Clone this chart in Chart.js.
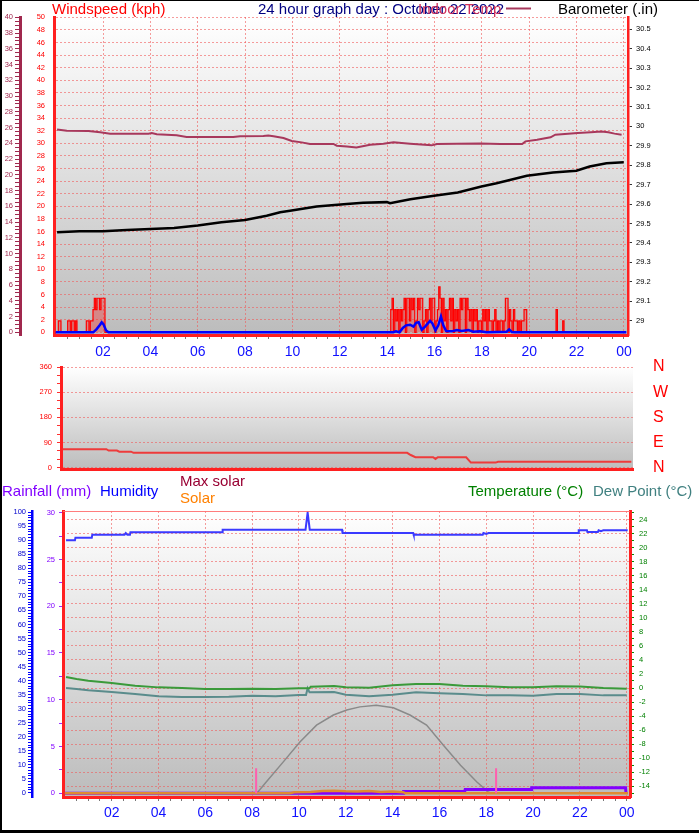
<!DOCTYPE html>
<html>
<head>
<meta charset="utf-8">
<script src="https://cdn.jsdelivr.net/npm/chart.js@4.4.1/dist/chart.umd.min.js"></script>
<style>
  body { margin: 0; background: #fff; }
  #page { position: relative; width: 699px; height: 833px; overflow: hidden; background: #fff; }
  #page canvas { position: absolute; left: 0; top: 0; }
  #frame { position: absolute; left: 0; top: 0; width: 699px; height: 833px; box-sizing: border-box;
           border-left: 2px solid #000; border-top: 1px solid #000; border-bottom: 3px solid #000; pointer-events: none; }
</style>
</head>
<body>
<div id="page">
  <canvas id="wind-chart" width="699" height="833"></canvas>
  <canvas id="dir-chart" width="699" height="833"></canvas>
  <canvas id="temp-chart" width="699" height="833"></canvas>
  <div id="frame"></div>
</div>
<script>
Chart.defaults.font.family = '"Liberation Sans", Arial, sans-serif';
Chart.defaults.animation = false;

// all times are hours after midnight, 22 October 2022
const hourTicks = [2, 4, 6, 8, 10, 12, 14, 16, 18, 20, 22, 24];
const hourLabels = ['02', '04', '06', '08', '10', '12', '14', '16', '18', '20', '22', '00'];
const compassLabels = ['N', 'E', 'S', 'W', 'N'];

// indoor temperature (C)
const indoorTimes = [0.06, 0.47, 1.38, 1.88, 2.3, 3.92, 4.06, 4.27, 5.11, 5.53, 7.5, 7.79, 8.77, 8.98, 9.2,
  9.62, 9.97, 10.39, 10.74, 11.73, 11.87, 12.3, 12.7, 13.28, 13.84, 14.27, 14.97, 15.88, 16.1, 16.94,
  17.93, 18.78, 19.7, 19.84, 20.33, 20.9, 21.1, 22.05, 22.6, 23.05, 23.34, 23.6, 23.9];
const indoorTemp = [25.74, 25.6, 25.57, 25.4, 25.23, 25.23, 25.3, 25.15, 25.01, 24.81, 24.81, 24.9, 24.94, 25.0, 24.9,
  24.68, 24.3, 24.12, 23.92, 23.92, 23.7, 23.61, 23.48, 23.82, 23.95, 24.12, 23.95, 23.74, 23.9, 23.95,
  23.99, 23.92, 23.91, 24.25, 24.46, 24.76, 25.1, 25.3, 25.4, 25.5, 25.4, 25.23, 25.1];

// barometer (in)
const baroTimes = [0.06, 1, 2, 3, 4, 5, 6, 7, 8, 8.91, 9.48, 9.9, 11.02, 12.29, 12.98, 13.99, 14.12, 14.98,
  15.98, 16.98, 17.98, 18.62, 19.05, 19.9, 21.0, 21.99, 22.55, 23.26, 23.99];
const baroValues = [29.455, 29.46, 29.46, 29.467, 29.472, 29.477, 29.49, 29.506, 29.518, 29.54, 29.558, 29.566, 29.587,
  29.6, 29.607, 29.61, 29.604, 29.625, 29.643, 29.66, 29.69, 29.707, 29.72, 29.746, 29.762, 29.772, 29.793, 29.81, 29.815];

// wind gusts (kph), one reading every ~3.4 minutes during the windy spells
const gustStep = 0.0563;
const gustNightStart = 0;
const gustNight = [0, 0, 1.8, 1.8, 0, 0, 0, 0, 0, 1.8, 1.8, 0, 1.8, 1.8, 0, 1.8, 0, 0, 0, 0,
  0, 0, 0, 1.8, 1.8, 0, 1.8, 1.8, 3.6, 5.4, 3.6, 5.4, 5.4, 3.6, 5.4, 5.4, 5.4, 0];
const gustAfternoonStart = 14.094;
const gustAfternoon = [
  0, 3.6, 5.4, 0, 3.6, 1.8, 3.6, 0, 3.6, 1.8,
  3.6, 5.4, 0, 5.4, 5.4, 1.8, 5.4, 3.6, 5.4, 0,
  1.8, 5.4, 3.6, 5.4, 5.4, 0, 1.8, 3.6, 0, 3.6,
  5.4, 1.8, 5.4, 5.4, 0, 1.8, 3.6, 7.2, 5.4, 0,
  5.4, 1.8, 3.6, 0, 3.6, 5.4, 1.8, 5.4, 0, 3.6,
  1.8, 3.6, 0, 5.4, 3.6, 5.4, 5.4, 0, 5.4, 3.6,
  1.8, 3.6, 0, 3.6, 1.8, 3.6, 0, 1.8, 1.8, 0,
  3.6, 1.8, 3.6, 0, 3.6, 1.8, 1.8, 0, 1.8, 3.6,
  0, 1.8, 0, 1.8, 1.8, 0, 1.8, 5.4, 5.4, 0,
  3.6, 1.8, 0, 3.6, 1.8, 1.8, 0, 1.8, 0, 1.8,
  1.8, 3.6, 3.6, 0];
const gustEveningStart = 21.075;
const gustEvening = [0, 3.6, 0, 0, 0, 0, 1.8, 0];

// average wind speed (kph)
const avgTimes = [0, 1.59, 1.73, 1.875, 1.945, 2.016, 2.13, 2.23, 14.26, 14.37, 14.52, 14.66, 14.8, 14.97, 15.11,
  15.22, 15.33, 15.46, 15.6, 15.81, 15.91, 16.04, 16.16, 16.27, 16.37, 16.49, 16.73, 16.94, 17.15, 17.43,
  17.64, 17.92, 18.2, 19.05, 19.15, 19.26, 19.4, 24.1];
const avgWind = [0, 0, 0.5, 1.2, 1.6, 1.3, 0.3, 0, 0, 0.15, 0, 0.7, 1.1, 1.2, 0.9,
  1.5, 1.6, 0.4, 0.9, 1.8, 1.4, 0.3, 1.1, 2.5, 1.1, 0.2, 0.15, 0.35, 0.2, 0.35,
  0.1, 0.15, 0, 0.1, 0.45, 0.05, 0, 0];

// wind direction (degrees)
const dirTimes = [0, 1.85, 1.95, 2.3, 2.4, 2.9, 3.0, 14.6, 14.75, 14.95, 15.7, 15.8, 15.9, 17.1, 17.3, 18.35, 18.45, 24.1];
const dirValues = [66, 66, 61, 61, 57, 57, 53, 53, 45, 37, 37, 31, 37, 37, 18, 18, 21, 21];

// humidity (%)
const humTimes = [0.05, 0.43, 0.45, 1.15, 1.17, 2.55, 2.6, 2.67, 2.78, 2.8, 6.72, 6.74, 10.28, 10.37, 10.46,
  11.84, 11.86, 14.88, 14.9, 17.85, 17.88, 18.0, 18.1, 21.93, 21.95, 22.3, 22.32, 22.77, 22.8, 22.9, 23.0, 24.04];
const humValues = [90.0, 90.0, 90.9, 90.9, 92.0, 92.0, 92.6, 92.0, 92.0, 92.9, 92.9, 93.8, 93.8, 99.9, 93.8,
  93.8, 92.6, 92.6, 92.0, 92.0, 92.6, 92.3, 92.6, 92.6, 93.6, 93.6, 93.0, 93.0, 93.6, 93.3, 93.6, 93.6];

// temperature and dew point (C)
const tempTimes = [0.05, 0.5, 1, 2, 3, 4, 5, 6, 7, 8, 9, 10, 10.45, 10.5, 11.5, 12, 13, 14, 15, 16,
  17, 18, 19, 20, 21, 22, 23, 24];
const tempValues = [1.57, 1.29, 1.04, 0.71, 0.33, 0.09, 0, -0.14, -0.14, -0.1, -0.14, -0.05, -0.05, 0.19, 0.29, 0.1,
  0.05, 0.38, 0.57, 0.57, 0.33, 0.24, 0.1, 0.1, 0.24, 0.2, 0, -0.1];
const dewTimes = [0.05, 0.5, 1, 2, 3, 4, 5, 6, 7, 8, 9, 10, 10.3, 10.37, 10.45, 11.5, 12, 13, 14, 15,
  16, 17, 18, 19, 20, 21, 22, 23, 24];
const dewValues = [0, -0.14, -0.33, -0.57, -0.86, -1.19, -1.29, -1.29, -1.24, -1.1, -1.19, -1.0, -1.0, -0.05, -0.62,
  -0.57, -0.95, -1.19, -0.95, -0.62, -0.76, -0.86, -1.05, -1.05, -1.1, -0.86, -0.86, -1.05, -1.05];

// solar radiation (W/m2)
const maxSolarTimes = [0, 8.2, 8.6, 9.33, 10.04, 10.75, 11.47, 12.04, 12.6, 13.3, 14.03, 14.74, 15.45, 16.17,
  16.9, 17.6, 18.08, 18.2, 24.05];
const maxSolarValues = [0, 0, 40, 112, 183, 243, 279, 297, 308, 314, 305, 279, 243, 171, 100, 40, 5, 0, 0];
const solarTimes = [0, 9.6, 9.8, 10.5, 11, 11.5, 12, 12.5, 13, 13.5, 14, 14.45, 14.55, 24.05];
const solarValues = [0, 0, 4, 5, 8, 9, 7, 6, 8, 5, 6, 4, 0, 0];

// rainfall today (mm)
const rainTimes = [0, 14.45, 14.47, 17.08, 17.1, 19.92, 19.94, 23.95, 23.97];
const rainValues = [0, 0, 0.2, 0.2, 0.4, 0.4, 0.6, 0.6, 0];

// sunrise / sunset
const sunTimes = [8.17, 18.42];
const sunMarkerHeight = 89;

const GRID = 'rgba(240, 90, 90, 0.6)';
const DOTS = [2, 2];
const RED = '#ff2020';
const MAROON = '#a0284e';

function pts(times, values) {
    return times.map((t, i) => ({ x: t, y: values[i] }));
}

function burst(start, values) {
    return values.map((v, i) => ({ x: start + i * gustStep, y: v }));
}

function tickList(from, to, step) {
    return function (scale) {
        const list = [];
        const n = Math.round((to - from) / step);
        for (let i = 0; i <= n; i++) {
            list.push({ value: Math.round((from + i * step) * 1000) / 1000 });
        }
        scale.ticks = list;
    };
}

function fixWidth(w) {
    return s => { s.width = w; s.paddingTop = 0; s.paddingBottom = 0; };
}

function fixHeight(h) {
    return s => { s.height = h; s.paddingLeft = 0; s.paddingRight = 0; };
}

function hourLabel(v) {
    const i = hourTicks.indexOf(v);
    return i < 0 ? '' : hourLabels[i];
}

function every(n) {
    return c => (c.tick && c.tick.value % n === 0) ? GRID : 'transparent';
}

const plotBackground = {
    id: 'plotBackground',
    beforeDraw(chart) {
        const { ctx, chartArea: a } = chart;
        const g = ctx.createLinearGradient(0, a.top, 0, a.bottom);
        g.addColorStop(0, '#ffffff');
        g.addColorStop(1, '#bcbcbc');
        ctx.save();
        ctx.fillStyle = g;
        ctx.fillRect(a.left, a.top, a.right - a.left, a.bottom - a.top);
        ctx.restore();
    }
};

function captions(list, extra) {
    return {
        id: 'captions',
        afterDraw(chart) {
            const ctx = chart.ctx;
            ctx.save();
            ctx.font = '15px "Liberation Sans", Arial, sans-serif';
            ctx.textBaseline = 'alphabetic';
            list.forEach(([text, x, y, color]) => {
                ctx.fillStyle = color;
                ctx.fillText(text, x, y);
            });
            if (extra) extra(ctx, chart);
            ctx.restore();
        }
    };
}

function hourAxis(min, max, height, pad) {
    return {
        type: 'linear', min: min, max: max,
        afterBuildTicks: tickList(0.5, 24, 0.5),
        afterFit: fixHeight(height),
        grid: { color: every(2), tickColor: '#777', tickLength: 4 },
        border: { color: RED, width: 3, dash: DOTS },
        ticks: { autoSkip: false, maxRotation: 0, minRotation: 0, padding: pad, color: '#1010ff',
                 font: { size: 14 }, callback: hourLabel }
    };
}

const common = {
    responsive: false,
    events: [],
    plugins: { legend: { display: false }, tooltip: { enabled: false } },
    elements: { point: { radius: 0 }, line: { tension: 0 } }
};

// ---- top: wind, indoor temperature, barometer ----
new Chart(document.getElementById('wind-chart'), {
    type: 'line',
    data: {
        datasets: [
            { data: pts(avgTimes, avgWind), yAxisID: 'wind', borderColor: '#0000ff', borderWidth: 2.5, order: 0 },
            { data: [...burst(gustNightStart, gustNight), ...burst(gustAfternoonStart, gustAfternoon),
                     ...burst(gustEveningStart, gustEvening)],
              yAxisID: 'wind', borderColor: '#ff0000', borderWidth: 1.2, stepped: true,
              fill: 'origin', backgroundColor: 'rgba(255, 30, 30, 0.35)', order: 1 },
            { data: pts(baroTimes, baroValues), yAxisID: 'baro', borderColor: '#000', borderWidth: 2.5, order: 2 },
            { data: pts(indoorTimes, indoorTemp), yAxisID: 'tin', borderColor: '#a8385c', borderWidth: 2, order: 3 }
        ]
    },
    options: {
        ...common,
        layout: { padding: { top: 17, bottom: 471, left: 0, right: 0 } },
        scales: {
            x: hourAxis(-0.07, 24.17, 27, 5),
            tin: {
                position: 'left', weight: 2, min: -0.34, max: 40.04,
                afterBuildTicks: tickList(0, 40, 0.5), afterFit: fixWidth(20),
                grid: { drawOnChartArea: false, tickColor: MAROON, tickLength: 5 },
                border: { color: MAROON, width: 3 },
                ticks: { autoSkip: false, padding: 2, color: MAROON, font: { size: 7.5 },
                         callback: v => v % 2 === 0 ? String(v) : '' }
            },
            wind: {
                position: 'left', weight: 1, min: -0.43, max: 50.05,
                afterBuildTicks: tickList(0, 50, 2), afterFit: fixWidth(34),
                grid: { color: GRID, drawTicks: false },
                border: { color: RED, width: 3, dash: DOTS },
                ticks: { autoSkip: false, padding: 9, color: '#ff0000', font: { size: 7.5 } }
            },
            baro: {
                position: 'right', min: 28.926, max: 30.563,
                afterBuildTicks: tickList(29, 30.5, 0.1), afterFit: fixWidth(71),
                grid: { drawOnChartArea: false, tickColor: '#333', tickLength: 4 },
                border: { color: RED, width: 2.5 },
                ticks: { autoSkip: false, padding: 4, color: '#000', font: { size: 7.5 },
                         callback: v => String(Math.round(v * 10) / 10) }
            }
        }
    },
    plugins: [plotBackground, captions([
        ['Windspeed (kph)', 52, 13.5, '#ff0000'],
        ['24 hour graph day : October 22 2022', 258, 13.5, '#000080'],
        ['Indoor Temp', 418, 13.5, '#d0305a'],
        ['Barometer (.in)', 558, 13.5, '#000000']
    ], ctx => {
        ctx.strokeStyle = '#a8385c';
        ctx.lineWidth = 2;
        ctx.beginPath();
        ctx.moveTo(506, 8.5);
        ctx.lineTo(531, 8.5);
        ctx.stroke();
    })]
});

// ---- middle: wind direction ----
new Chart(document.getElementById('dir-chart'), {
    type: 'line',
    data: {
        datasets: [
            { data: pts(dirTimes, dirValues), yAxisID: 'dir', borderColor: '#ee3b3b', borderWidth: 2 }
        ]
    },
    options: {
        ...common,
        layout: { padding: { top: 367, bottom: 359.5, left: 0, right: 0 } },
        scales: {
            x: {
                type: 'linear', min: -0.07, max: 24.17, afterFit: fixHeight(4),
                ticks: { display: false }, grid: { display: false },
                border: { color: RED, width: 3 }
            },
            dir: {
                position: 'left', min: -6.8, max: 360,
                afterBuildTicks: tickList(0, 360, 30), afterFit: fixWidth(61),
                grid: { color: every(90), tickColor: '#ff3030', tickLength: 4 },
                border: { color: RED, width: 3, dash: DOTS },
                ticks: { autoSkip: false, padding: 5, color: '#ff0000', font: { size: 7.5 },
                         callback: v => v % 90 === 0 ? String(v) : '' }
            },
            compass: {
                position: 'right', min: -6.8, max: 360,
                afterBuildTicks: tickList(0, 360, 90), afterFit: fixWidth(66),
                grid: { drawOnChartArea: false, drawTicks: false },
                border: { display: false },
                ticks: { autoSkip: false, padding: 20, color: '#ff0000', font: { size: 16 },
                         callback: v => compassLabels[v / 90] }
            }
        }
    },
    plugins: [plotBackground]
});

// ---- bottom: humidity, temperature, solar, rain ----
new Chart(document.getElementById('temp-chart'), {
    type: 'line',
    data: {
        datasets: [
            { data: sunTimes.flatMap(t => [{ x: t, y: 0 }, { x: t, y: sunMarkerHeight }, { x: t, y: null }]),
              yAxisID: 'sol', borderColor: '#ff5fae', borderWidth: 2, spanGaps: false, order: 0 },
            { data: pts(humTimes, humValues), yAxisID: 'hum', borderColor: '#3a3aff', borderWidth: 2, order: 1 },
            { data: pts(tempTimes, tempValues), yAxisID: 'temp', borderColor: '#3a9a3a', borderWidth: 2, order: 2 },
            { data: pts(dewTimes, dewValues), yAxisID: 'temp', borderColor: '#5a8c8c', borderWidth: 2, order: 3 },
            { data: pts(solarTimes, solarValues), yAxisID: 'sol', borderColor: '#e08a30', borderWidth: 2.5, order: 4 },
            { data: pts(rainTimes, rainValues), yAxisID: 'rain', borderColor: '#8000ff', borderWidth: 3, order: 5 },
            { data: pts(maxSolarTimes, maxSolarValues), yAxisID: 'sol', borderColor: '#8a8a8a', borderWidth: 1.5, order: 6 }
        ]
    },
    options: {
        ...common,
        layout: { padding: { top: 511, bottom: 6, left: 0, right: 0 } },
        scales: {
            x: hourAxis(-0.08, 24.14, 30, 4),
            hum: {
                position: 'left', weight: 2, min: -1.53, max: 100.46,
                afterBuildTicks: tickList(0, 100, 1), afterFit: fixWidth(32),
                grid: { drawOnChartArea: false, tickColor: '#0000ff', tickLength: 4 },
                border: { color: '#0000ff', width: 2.5 },
                ticks: { autoSkip: false, padding: 2, color: '#0000cc', font: { size: 7.5 },
                         callback: v => v % 5 === 0 ? String(v) : '' }
            },
            rain: {
                position: 'left', weight: 1, min: -0.396, max: 30.18,
                afterBuildTicks: tickList(0, 30, 2.5), afterFit: fixWidth(31),
                grid: { drawOnChartArea: false, tickColor: '#9933ff', tickLength: 4 },
                border: { color: RED, width: 3 },
                ticks: { autoSkip: false, padding: 4, color: '#8000ff', font: { size: 7.5 },
                         callback: v => v % 5 === 0 ? String(v) : '' }
            },
            temp: {
                position: 'right', min: -15.53, max: 25.22,
                afterBuildTicks: tickList(-15, 25, 1), afterFit: fixWidth(69),
                grid: { color: every(2), tickColor: '#008800', tickLength: 4 },
                border: { color: RED, width: 3, dash: DOTS },
                ticks: { autoSkip: false, padding: 5, color: '#008000', font: { size: 7.5 },
                         callback: v => (v % 2 === 0 && v >= -14 && v <= 24) ? String(v) : '' }
            },
            sol: { display: false, min: -13.2, max: 1006 }
        }
    },
    plugins: [plotBackground, captions([
        ['Rainfall (mm)', 2, 495.5, '#8000ff'],
        ['Humidity', 100, 495.5, '#0000ff'],
        ['Max solar', 180, 486, '#990033'],
        ['Solar', 180, 503, '#ff8000'],
        ['Temperature (\u00b0C)', 468, 495.5, '#008000'],
        ['Dew Point (\u00b0C)', 593, 495.5, '#408080']
    ], (ctx, chart) => {
        const a = chart.chartArea;
        ctx.strokeStyle = 'rgba(255, 110, 110, 0.9)';
        ctx.lineWidth = 1;
        ctx.beginPath();
        ctx.moveTo(a.left, a.top + 0.5);
        ctx.lineTo(a.right, a.top + 0.5);
        ctx.stroke();
    })]
});
</script>
</body>
</html>
